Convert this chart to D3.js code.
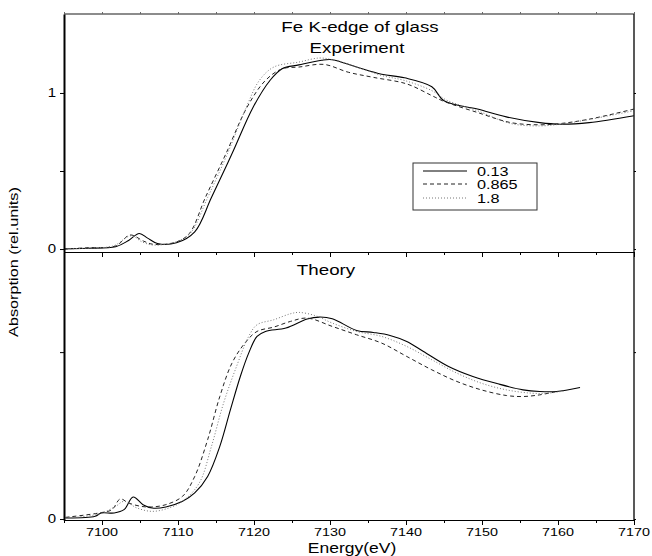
<!DOCTYPE html>
<html><head><meta charset="utf-8">
<script src="https://cdn.jsdelivr.net/npm/d3@7"></script>
<style>body{margin:0;background:#fff}svg text{font-family:"Liberation Sans",Arial,sans-serif;fill:#000}</style>
</head><body><svg id="c" width="652" height="556"></svg>
<script>
// ---- data ----
const seriesNames = ["0.13", "0.865", "1.8"];
const xTicksMajor = [7100, 7110, 7120, 7130, 7140, 7150, 7160, 7170];
const topYTicks = [0, 0.5, 1];
const topYTickLabels = ["0", "", "1"];
const botYTicks = [0, 1];
const botYTickLabels = ["0", ""];
const panelTitles = ["Fe K-edge of glass", "Experiment", "Theory"];
const xLabel = "Energy(eV)";
const yLabel = "Absorption (rel.units)";

const exp_013 = [[7095,0.0],[7098,0.005],[7101.8,0.015],[7103.5,0.055],[7104.9,0.10],[7106,0.07],[7107.3,0.035],[7109.8,0.04],[7112.2,0.11],[7114.4,0.33],[7117.1,0.61],[7119.9,0.91],[7122.1,1.08],[7123.7,1.155],[7125.9,1.18],[7128.9,1.21],[7130.3,1.213],[7133.5,1.166],[7136.8,1.12],[7139.8,1.097],[7143.4,1.04],[7145.0,0.95],[7149.4,0.897],[7153.2,0.847],[7157.6,0.81],[7160.3,0.80],[7164.1,0.81],[7170,0.854]];
const exp_0865 = [[7095,0.0],[7098,0.008],[7101.8,0.02],[7103.7,0.09],[7105.5,0.05],[7106.8,0.03],[7109.8,0.045],[7111.5,0.1],[7113.6,0.33],[7116.3,0.61],[7119.1,0.91],[7121.5,1.08],[7123.7,1.155],[7125.9,1.166],[7129.2,1.183],[7132.4,1.133],[7135.7,1.10],[7140.1,1.058],[7143.4,0.983],[7145,0.946],[7149.4,0.875],[7153.8,0.81],[7157.6,0.796],[7160.3,0.804],[7164.1,0.832],[7170,0.897]];
const exp_18 = [[7095,0.0],[7098,0.006],[7101.5,0.02],[7103.8,0.085],[7105.3,0.045],[7106.8,0.025],[7109.8,0.048],[7111.6,0.1],[7113.9,0.33],[7116.5,0.61],[7119,0.91],[7120.7,1.08],[7122.6,1.166],[7125.9,1.198],[7128.6,1.224],[7130.3,1.213],[7133.5,1.166],[7136.8,1.112],[7139.8,1.08],[7143.4,1.015],[7145.3,0.955],[7149.4,0.886],[7153.8,0.804],[7157.6,0.789],[7160.3,0.80],[7164.1,0.83],[7170,0.886]];

const th_013 = [[7095.2,0.006],[7099.1,0.016],[7099.9,0.036],[7101.6,0.036],[7102.9,0.056],[7104.1,0.132],[7105.4,0.086],[7106.6,0.066],[7108.4,0.072],[7110.6,0.106],[7112.2,0.156],[7113.9,0.255],[7115.5,0.435],[7116.9,0.655],[7118.2,0.854],[7119.3,0.994],[7120.4,1.094],[7121.5,1.124],[7124.2,1.144],[7127.0,1.198],[7128.6,1.21],[7130.3,1.2],[7133.5,1.13],[7135.7,1.118],[7137.9,1.10],[7140.1,1.064],[7142.3,1.004],[7145.6,0.914],[7148.8,0.854],[7152.1,0.81],[7155.4,0.774],[7157.6,0.764],[7159.8,0.764],[7162.9,0.788]];
const th_0865 = [[7095.2,0.01],[7099.6,0.036],[7101.3,0.056],[7102.4,0.12],[7103.5,0.096],[7105.1,0.076],[7106.5,0.072],[7108.4,0.086],[7110.6,0.136],[7112.2,0.255],[7113.9,0.475],[7115.5,0.734],[7117.1,0.934],[7118.8,1.054],[7120.4,1.124],[7122.6,1.15],[7124.8,1.184],[7127.0,1.204],[7130.3,1.154],[7133.5,1.104],[7136.8,1.054],[7140.1,0.974],[7143.4,0.894],[7146.7,0.824],[7149.9,0.774],[7153.2,0.74],[7155.4,0.734],[7157.6,0.744],[7159.8,0.764]];
const th_18 = [[7095.2,0.006],[7099.6,0.03],[7101.8,0.076],[7102.9,0.106],[7104.6,0.066],[7106.5,0.046],[7108.4,0.06],[7110.6,0.106],[7112.8,0.216],[7114.4,0.435],[7116.0,0.695],[7117.7,0.914],[7119.3,1.094],[7120.4,1.164],[7122.6,1.194],[7124.8,1.23],[7125.9,1.238],[7128.1,1.218],[7130.3,1.174],[7133.5,1.124],[7136.8,1.094],[7140.1,1.034],[7143.4,0.954],[7146.7,0.874],[7149.9,0.814],[7153.2,0.774],[7156.5,0.754],[7158.7,0.754],[7160.9,0.768]];

// ---- layout ----
const L = 64, R = 634, T = 14, MID = 252, B = 520;
const svg = d3.select("#c");
const x = d3.scaleLinear().domain([7095, 7170]).range([L, R]);
const yTop = d3.scaleLinear().domain([-0.019, 1.506]).range([MID, T]);
const yBot = d3.scaleLinear().domain([-0.006, 1.6]).range([B, MID]);
const SX = 1.25;
const styles = [
  {dash: null, color: "#000", w: 1.1},
  {dash: "4,3", color: "#222", w: 1.0},
  {dash: "1,2", color: "#777", w: 1.0}
];

function stretchText(g, xx, yy, txt, size, anchor, rot) {
  return g.append("text")
    .attr("transform", `translate(${xx},${yy})` + (rot ? ` rotate(${rot})` : "") + ` scale(${SX},1)`)
    .attr("text-anchor", anchor || "middle")
    .attr("font-size", size)
    .text(txt);
}

function drawLines(data, ys) {
  data.forEach((d, i) => {
    const line = d3.line().x(p => x(p[0])).y(p => ys(p[1])).curve(d3.curveCatmullRom.alpha(0.5));
    svg.append("path").attr("d", line(d)).attr("fill", "none")
      .attr("stroke", styles[i].color).attr("stroke-width", styles[i].w)
      .attr("stroke-dasharray", styles[i].dash);
  });
}
drawLines([exp_013, exp_0865, exp_18], yTop);
drawLines([th_013, th_0865, th_18], yBot);

// minor ticks every 5 eV
const xTicksAll = d3.range(7095, 7171, 5);

// frame
svg.append("line").attr("x1", L).attr("x2", R).attr("y1", T).attr("y2", T).attr("stroke", "#666").attr("stroke-width", 1.5);
svg.append("line").attr("x1", R).attr("x2", R).attr("y1", T).attr("y2", B).attr("stroke", "#222").attr("stroke-width", 1.5);

// top panel x axis (ticks down, no labels)
const axTop = svg.append("g").attr("transform", `translate(0,${MID})`)
  .call(d3.axisBottom(x).tickValues(xTicksAll).tickFormat("").tickSizeInner(4).tickSizeOuter(0));
axTop.selectAll(".tick line").attr("y2", d => xTicksMajor.includes(d) ? 5 : 3);
// top frame ticks
const axTT = svg.append("g").attr("transform", `translate(0,${T})`)
  .call(d3.axisTop(x).tickValues(xTicksAll).tickFormat("").tickSizeInner(2).tickSizeOuter(0));
axTT.select(".domain").remove();
axTT.selectAll(".tick line").attr("stroke", "#666");

// bottom panel x axis
const axBot = svg.append("g").attr("transform", `translate(0,${B})`)
  .call(d3.axisBottom(x).tickValues(xTicksAll).tickSizeInner(4).tickSizeOuter(0).tickFormat(""));
axBot.selectAll(".tick line").attr("y2", d => xTicksMajor.includes(d) ? 5 : 3);
xTicksMajor.forEach(v => stretchText(svg, x(v), B + 16, String(v), 11.5));

// left axes
const axLT = svg.append("g").attr("transform", `translate(${L},0)`)
  .call(d3.axisLeft(yTop).tickValues(topYTicks).tickFormat("").tickSizeInner(4).tickSizeOuter(0));
topYTicks.forEach((v, i) => { if (topYTickLabels[i]) stretchText(svg, L - 8, yTop(v) + 4, topYTickLabels[i], 12, "end"); });
const axLB = svg.append("g").attr("transform", `translate(${L},0)`)
  .call(d3.axisLeft(yBot).tickValues(botYTicks).tickFormat("").tickSizeInner(4).tickSizeOuter(0));
botYTicks.forEach((v, i) => { if (botYTickLabels[i]) stretchText(svg, L - 8, yBot(v) + 4, botYTickLabels[i], 12, "end"); });
[axLT, axLB].forEach(a => a.select(".domain").attr("stroke-width", 2));

// right axis small ticks
const axR = svg.append("g").attr("transform", `translate(${R},0)`)
  .call(d3.axisRight(yTop).tickValues(topYTicks).tickFormat("").tickSizeInner(2).tickSizeOuter(0));
axR.select(".domain").remove();
const axR2 = svg.append("g").attr("transform", `translate(${R},0)`)
  .call(d3.axisRight(yBot).tickValues(botYTicks).tickFormat("").tickSizeInner(2).tickSizeOuter(0));
axR2.select(".domain").remove();

// titles
stretchText(svg, 360, 32, panelTitles[0], 15);
stretchText(svg, 357, 53, panelTitles[1], 15);
stretchText(svg, 326, 275, panelTitles[2], 15);
stretchText(svg, 352, 553, xLabel, 14);
stretchText(svg, 18, 262, yLabel, 13, "middle", -90);

// legend
const lg = svg.append("g");
lg.append("rect").attr("x", 413).attr("y", 163).attr("width", 124).attr("height", 47)
  .attr("fill", "#fff").attr("stroke", "#333").attr("stroke-width", 1);
const rowsY = [171, 184, 198];
seriesNames.forEach((n, i) => {
  lg.append("line").attr("x1", 423).attr("x2", 467).attr("y1", rowsY[i]).attr("y2", rowsY[i])
    .attr("stroke", styles[i].color).attr("stroke-width", 1).attr("stroke-dasharray", styles[i].dash);
  stretchText(lg, 477, rowsY[i] + 4.5, n, 13, "start");
});
</script></body></html>
